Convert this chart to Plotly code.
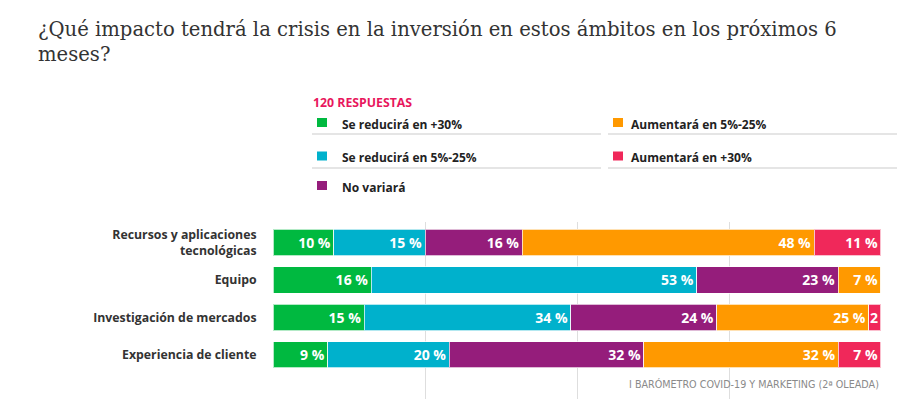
import plotly.graph_objects as go

# ---------------- data ----------------
categories = [
    "Recursos y aplicaciones<br>tecnológicas",
    "Equipo",
    "Investigación de mercados",
    "Experiencia de cliente",
]
series_names = [
    "Se reducirá en +30%",
    "Se reducirá en 5%-25%",
    "No variará",
    "Aumentará en 5%-25%",
    "Aumentará en +30%",
]
reduce_30 = [10, 16, 15, 9]
reduce_5_25 = [15, 53, 34, 20]
no_change = [16, 23, 24, 32]
increase_5_25 = [48, 7, 25, 32]
increase_30 = [11, 0, 2, 7]
grid_ticks = [25, 50, 75, 100]

title_text = ("¿Qué impacto tendrá la crisis en la inversión en estos ámbitos en los próximos 6"
              "<br>meses?")
responses_label = "120 RESPUESTAS"
source_label = "I BARÓMETRO COVID-19 Y MARKETING (2ª OLEADA)"

# ---------------- style ----------------
colors = ["#00b940", "#00b1cc", "#951d7b", "#ff9900", "#f0285a"]
W, H = 914, 399
L, R, T, B = 273, 881, 222, 399  # plot area in pixels

def px_x(px):
    return (px - L) / (R - L)

def px_y(py):
    return (B - py) / (B - T)

def label(v):
    if v <= 0:
        return ""
    if v < 5:
        return f"{v}"
    return f"{v} %"

series_values = [reduce_30, reduce_5_25, no_change, increase_5_25, increase_30]

fig = go.Figure()
for name, vals, col in zip(series_names, series_values, colors):
    fig.add_trace(go.Bar(
        y=categories, x=vals, name=name, orientation="h",
        marker=dict(color=col, line=dict(color="rgba(255,255,255,0.7)", width=1)),
        text=[label(v) for v in vals],
        textposition="inside", insidetextanchor="end", textangle=0,
        constraintext="none",
        textfont=dict(family="Open Sans", size=14, color="white", weight=700),
        hoverinfo="skip", showlegend=False, cliponaxis=False,
    ))

row_px = 37.4
top_center = 242.5
rng_top = -(top_center - T) / row_px
rng_bot = 3 + (B - (top_center + 3 * row_px)) / row_px

fig.update_layout(
    width=W, height=H,
    margin=dict(l=L, r=W - R, t=T, b=H - B, pad=0),
    barmode="stack", barnorm="percent", bargap=0.294,
    plot_bgcolor="white", paper_bgcolor="white",
    showlegend=False,
    title=dict(
        text=title_text, xref="container", yref="container",
        x=38 / W, xanchor="left", y=1 - 36 / H, yanchor="top",
        font=dict(family="DejaVu Serif", size=19.6, color="#333333"),
    ),
    xaxis=dict(
        range=[0, 100.001], tickvals=grid_ticks, showticklabels=False,
        showgrid=True, gridcolor="#dedede", gridwidth=1,
        zeroline=False, showline=False, fixedrange=True,
    ),
    yaxis=dict(
        categoryorder="array", categoryarray=categories,
        range=[rng_bot, rng_top],
        showgrid=False, zeroline=False, showline=False, fixedrange=True,
        ticks="outside", ticklen=13, tickcolor="rgba(0,0,0,0)",
        tickfont=dict(family="Open Sans", size=12.3, color="#333333", weight=700),
    ),
)

# ---------- custom legend ----------
annotations = []
shapes = []
annotations.append(dict(
    text=responses_label, xref="paper", yref="paper",
    x=px_x(311), y=px_y(102), xanchor="left", yanchor="middle", showarrow=False,
    font=dict(family="Open Sans", size=12.3, color="#e8175d", weight=700),
))
col_x = [(317, 340, 312, 601), (613, 629, 608, 897)]
row_y = [122.5, 156, 185.5]
layout_slots = [(0, 0), (0, 1), (0, 2), (1, 0), (1, 1)]
for (ci, ri), name, col in zip(layout_slots, series_names, colors):
    sq_x, tx, ul0, ul1 = col_x[ci]
    cy = row_y[ri]
    shapes.append(dict(
        type="rect", xref="paper", yref="paper",
        x0=px_x(sq_x), x1=px_x(sq_x + 10), y0=px_y(cy - 4.5), y1=px_y(cy + 4.5),
        fillcolor=col, line=dict(width=0),
    ))
    annotations.append(dict(
        text=name, xref="paper", yref="paper",
        x=px_x(tx), y=px_y(cy + 1.5), xanchor="left", yanchor="middle", showarrow=False,
        font=dict(family="Open Sans", size=12, color="#222222", weight=700),
    ))
    if ri < 2:
        uy = [134, 168][ri]
        shapes.append(dict(
            type="line", xref="paper", yref="paper",
            x0=px_x(ul0), x1=px_x(ul1), y0=px_y(uy), y1=px_y(uy),
            line=dict(color="#dddddd", width=1.5),
        ))

annotations.append(dict(
    text=source_label, xref="paper", yref="paper",
    x=1, y=px_y(384), xanchor="right", yanchor="middle", showarrow=False,
    font=dict(family="DejaVu Sans", size=9.6, color="#8a8a8a"),
))

fig.update_layout(annotations=annotations, shapes=shapes)
fig.write_html(
    "out.html",
    config={"displayModeBar": False},
    post_script="document.body.style.margin='0';document.body.style.overflow='hidden';",
)
